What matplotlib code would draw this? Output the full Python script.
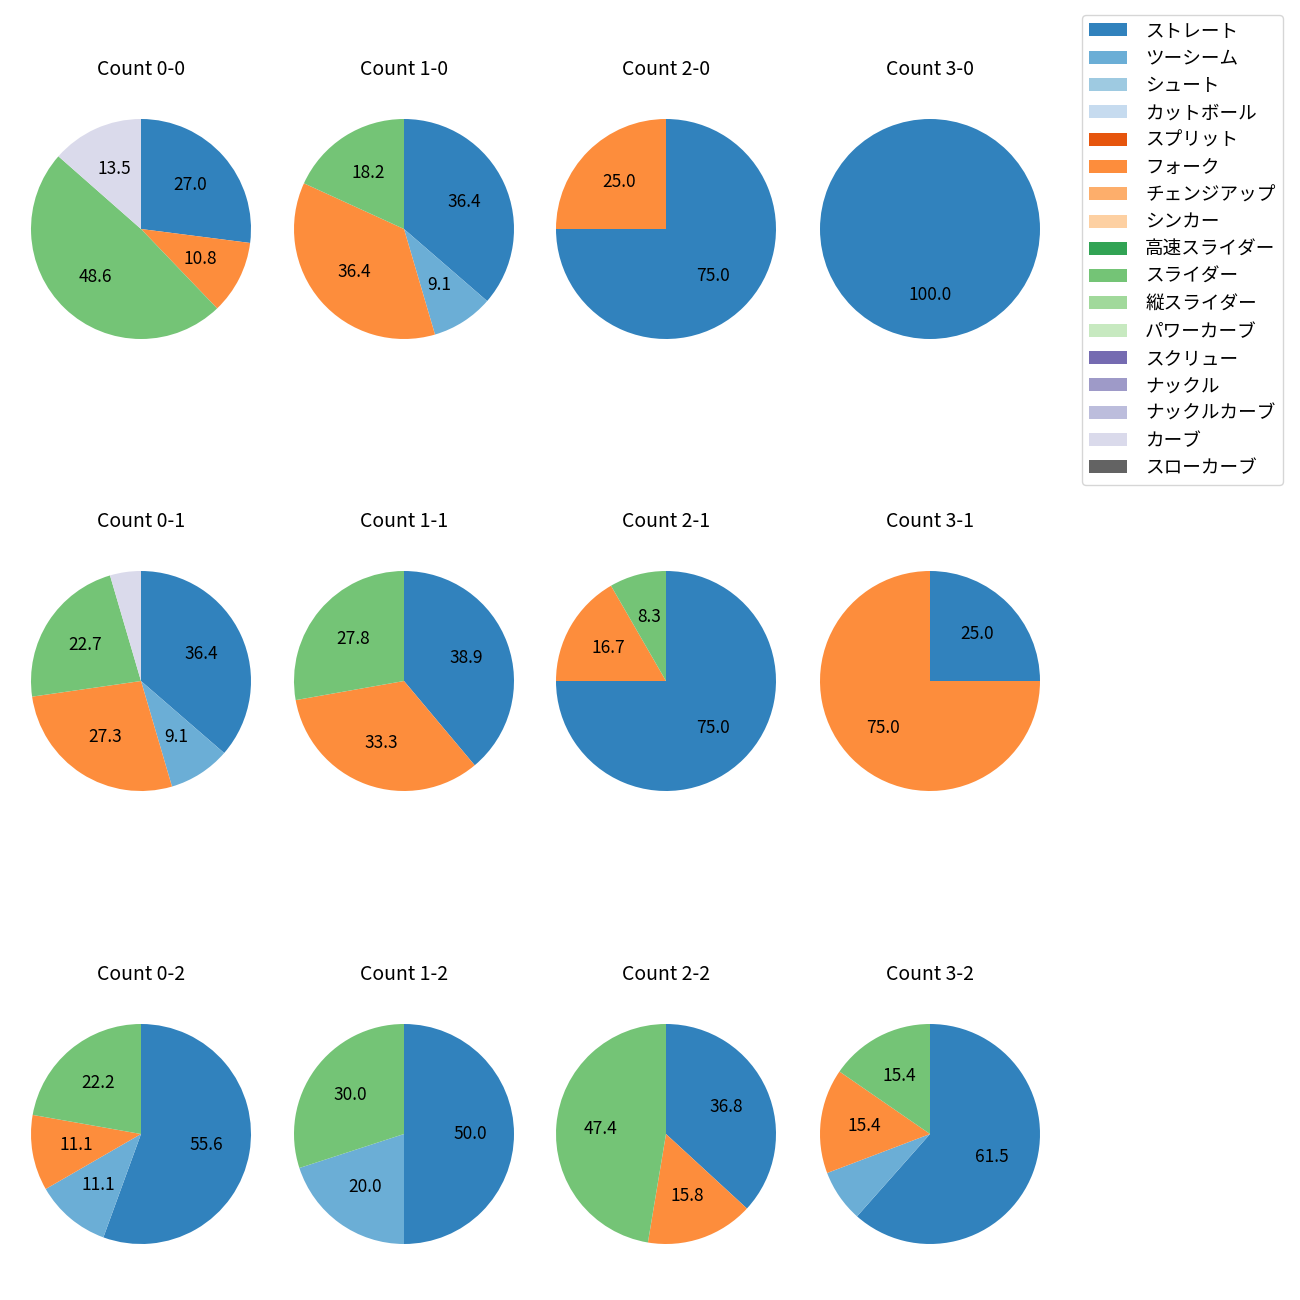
import matplotlib
matplotlib.use("Agg")
import matplotlib.pyplot as plt
from matplotlib.patches import Patch

plt.rcParams['font.family'] = ['Noto Sans CJK JP', 'DejaVu Sans']

pitch_types = ["ストレート", "ツーシーム", "シュート", "カットボール", "スプリット", "フォーク",
               "チェンジアップ", "シンカー", "高速スライダー", "スライダー", "縦スライダー",
               "パワーカーブ", "スクリュー", "ナックル", "ナックルカーブ", "カーブ", "スローカーブ"]

counts = ["0-0", "1-0", "2-0", "3-0",
          "0-1", "1-1", "2-1", "3-1",
          "0-2", "1-2", "2-2", "3-2"]

# pitch counts per ball-strike count
count_0_0 = {"ストレート": 10, "フォーク": 4, "スライダー": 18, "カーブ": 5}
count_1_0 = {"ストレート": 4, "ツーシーム": 1, "フォーク": 4, "スライダー": 2}
count_2_0 = {"ストレート": 3, "フォーク": 1}
count_3_0 = {"ストレート": 1}
count_0_1 = {"ストレート": 8, "ツーシーム": 2, "フォーク": 6, "スライダー": 5, "カーブ": 1}
count_1_1 = {"ストレート": 7, "フォーク": 6, "スライダー": 5}
count_2_1 = {"ストレート": 9, "フォーク": 2, "スライダー": 1}
count_3_1 = {"ストレート": 1, "フォーク": 3}
count_0_2 = {"ストレート": 5, "ツーシーム": 1, "フォーク": 1, "スライダー": 2}
count_1_2 = {"ストレート": 5, "ツーシーム": 2, "スライダー": 3}
count_2_2 = {"ストレート": 7, "フォーク": 3, "スライダー": 9}
count_3_2 = {"ストレート": 8, "ツーシーム": 1, "フォーク": 2, "スライダー": 2}

data = [count_0_0, count_1_0, count_2_0, count_3_0,
        count_0_1, count_1_1, count_2_1, count_3_1,
        count_0_2, count_1_2, count_2_2, count_3_2]

cmap = plt.get_cmap("tab20c")
colors = {p: cmap(i) for i, p in enumerate(pitch_types)}

W = H = 1300
fig = plt.figure(figsize=(13, 13), dpi=100)

col_cx = [141, 404, 666, 930]
row_cy = [229, 681, 1134]
S = 275

for i, (c, d) in enumerate(zip(counts, data)):
    r, col = divmod(i, 4)
    cx, cy = col_cx[col], row_cy[r]
    ax = fig.add_axes([(cx - S / 2) / W, 1 - (cy + S / 2) / H, S / W, S / H])
    labels = [p for p in pitch_types if p in d]
    vals = [d[p] for p in labels]
    ax.pie(vals, colors=[colors[p] for p in labels], startangle=90, counterclock=False,
           autopct=lambda pct: f"{pct:.1f}" if pct >= 8 else "",
           textprops={"fontsize": 12.5})
    ax.set_title(f"Count {c}", fontsize=14, pad=12)

handles = [Patch(facecolor=colors[p], label=p) for p in pitch_types]
fig.legend(handles=handles, loc="upper right", bbox_to_anchor=(1283 / W, 1 - 15 / H),
           fontsize=13.4, borderaxespad=0, handlelength=2.0, handletextpad=1.0)

fig.savefig("out.png", dpi=100)
